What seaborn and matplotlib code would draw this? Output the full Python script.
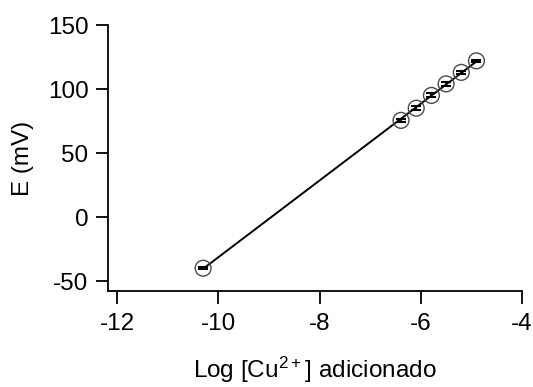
import numpy as np
import pandas as pd
import matplotlib
matplotlib.use("Agg")
import matplotlib.pyplot as plt
import seaborn as sns

log_cu = [-10.3, -6.39, -6.09, -5.79, -5.5, -5.2, -4.9]
e_mv = [-40.0, 75.5, 85.0, 95.0, 104.0, 113.0, 122.0]
e_err = [1.0, 1.2, 1.5, 1.5, 1.5, 1.2, 0.8]
x_ticks = [-12, -10, -8, -6, -4]
y_ticks = [-50, 0, 50, 100, 150]

df = pd.DataFrame({"x": log_cu, "y": e_mv, "err": e_err})

sns.set_theme(style="ticks")
plt.rcParams["font.family"] = ["Liberation Sans", "DejaVu Sans"]
plt.rcParams["mathtext.default"] = "regular"

fig = plt.figure(figsize=(5.33, 3.87), dpi=100)
ax = fig.add_axes([108/533, 1-291/387, (522-108)/533, (291-25)/387])

sns.regplot(data=df, x="x", y="y", ci=None, scatter=False, truncate=True,
            line_kws={"color": "black", "lw": 1.4}, ax=ax)
ax.errorbar(df["x"], df["y"], yerr=df["err"], fmt="none", ecolor="black",
            elinewidth=1.2, capsize=3.5, capthick=1.5, zorder=3)
sns.scatterplot(data=df, x="x", y="y", ax=ax, s=130, facecolor="none",
                edgecolor="#4a4a4a", linewidth=1.0, zorder=4)

ax.set_xlim(-12.18, -4)
ax.set_ylim(-57.8, 150)
ax.set_xticks(x_ticks)
ax.set_yticks(y_ticks)
ax.set_xticklabels([str(t) for t in x_ticks])
ax.set_yticklabels([str(t) for t in y_ticks])
ax.tick_params(axis="both", direction="out", length=9, width=1.3,
               labelsize=17.5, color="black", labelcolor="black", pad=5)
ax.tick_params(axis="x", pad=7)
for s in ["left", "bottom"]:
    ax.spines[s].set_linewidth(1.3)
    ax.spines[s].set_color("black")
sns.despine(ax=ax)
ax.set_xlabel("Log [Cu$^{2+}$] adicionado", fontsize=17.5, labelpad=14, color="black")
ax.set_ylabel("E (mV)", fontsize=17.5, labelpad=10, color="black")

fig.savefig("out.png", dpi=100)
